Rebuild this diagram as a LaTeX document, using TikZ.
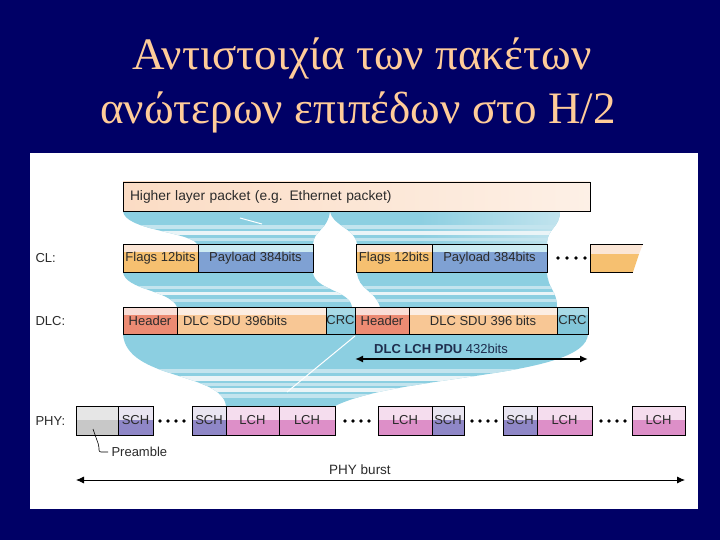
\documentclass[tikz,border=0pt]{standalone}
\usepackage{fontspec}
\setmainfont{Liberation Serif}
\setsansfont{Liberation Sans}
\usepackage{tikz}
\usetikzlibrary{arrows.meta,positioning}
\definecolor{HLNavy}{HTML}{000066}
\definecolor{HLTitle}{HTML}{FFCC99}
\definecolor{HLInk}{HTML}{2B2B2B}
\definecolor{HLPduInk}{HTML}{1E2D4D}
\definecolor{HLPeach}{HTML}{FBDCC4}
\definecolor{HLPeachLt}{HTML}{FDF0E6}
\definecolor{HLOrangeEnd}{HTML}{F6B47A}
\definecolor{HLFlagTop}{HTML}{FBE6D6}
\definecolor{HLFlag}{HTML}{F6C070}
\definecolor{HLPayTop}{HTML}{CDEBF2}
\definecolor{HLPay}{HTML}{7FA1D3}
\definecolor{HLHeadTop}{HTML}{F9DDD6}
\definecolor{HLHead}{HTML}{EC8B73}
\definecolor{HLSduTop}{HTML}{FCEDE2}
\definecolor{HLSdu}{HTML}{F8C795}
\definecolor{HLCrcTop}{HTML}{A9DAE6}
\definecolor{HLCrc}{HTML}{82C6D9}
\definecolor{HLPreTop}{HTML}{E6E6E6}
\definecolor{HLPre}{HTML}{C8C8C8}
\definecolor{HLSchTop}{HTML}{E9E5F1}
\definecolor{HLSch}{HTML}{8F87C7}
\definecolor{HLLchTop}{HTML}{F5DDEE}
\definecolor{HLLch}{HTML}{DD8FC8}
\definecolor{HLBand}{HTML}{8CCFE1}
\definecolor{HLBandLt}{HTML}{C3E4EE}
\definecolor{HLBandWh}{HTML}{EAF4F7}
\newcommand\segfont{\fontsize{13}{15}\selectfont\sffamily}

\begin{document}
\begin{tikzpicture}[x=1pt,y=-1pt,
  seg/.style n args={2}{draw=black,line width=.9pt,outer sep=0pt,inner sep=0pt,
    minimum height=28pt,fill=#2,font=\segfont,text=HLInk,
    path picture={\fill[#1] (path picture bounding box.north west) rectangle
      ([yshift=-8pt]path picture bounding box.north east);}},
  physeg/.style n args={2}{seg={#1}{#2},minimum height=29pt,
    path picture={\fill[#1] (path picture bounding box.north west) rectangle
      ([yshift=-14pt]path picture bounding box.north east);}},
  rowlab/.style={anchor=west,font=\segfont,text=HLInk},
  dots/.style={fill=black},
  bandfill/.style={fill=HLBand}]
\path[use as bounding box] (0,0) rectangle (720,540);
\fill[HLNavy] (0,0) rectangle (720,540);
\fill[white] (30,153) rectangle (698,509);
\node[text=HLTitle,font=\fontsize{45}{54}\selectfont] (title1) at (362,58) {Αντιστοιχία των πακέτων};
\node[text=HLTitle,font=\fontsize{45}{54}\selectfont] (title2) at (358,112) {ανώτερων επιπέδων στο Η/2};
\begin{scope}
\clip (123,211) -- (330,211) .. controls (328,230) and (314,230) .. (313,244) -- (197,244) .. controls (190,232) and (124,230) .. (123,211) -- cycle
  (330,211) -- (560,211) .. controls (560,228) and (547,228) .. (547,244) -- (357,244) .. controls (355,228) and (332,226) .. (330,211) -- cycle;
\fill[bandfill] (100,205) rectangle (620,250);
\shade[left color=HLBand,right color=HLBandLt] (420,205) rectangle (565,250);
\fill[HLBandLt] (100,225) rectangle (620,229);
\fill[HLBandWh] (100,231) rectangle (620,235);
\fill[HLBandLt] (100,238) rectangle (620,241);
\end{scope}
\draw[white,line width=1pt] (240,218) -- (262,224);
\begin{scope}
\clip (123,272) -- (313,272) .. controls (314,290) and (350,290) .. (352,307) -- (177,307) .. controls (170,290) and (125,290) .. (123,272) -- cycle
  (357,272) -- (547,272) .. controls (548,290) and (557,290) .. (557,307) -- (380,307) .. controls (375,290) and (358,290) .. (357,272) -- cycle;
\fill[bandfill] (100,265) rectangle (620,312);
\fill[HLBandLt] (100,286) rectangle (620,289);
\fill[HLBandWh] (100,292) rectangle (620,295);
\fill[HLBandLt] (100,299) rectangle (620,302);
\end{scope}
\begin{scope}
\clip (123,334) -- (588,334) .. controls (586,378) and (400,374) .. (335,406) -- (226,406) .. controls (222,372) and (126,380) .. (123,334) -- cycle;
\fill[bandfill] (100,330) rectangle (620,410);
\fill[HLBandLt] (100,369) rectangle (620,373);
\fill[HLBandWh] (100,376) rectangle (620,381);
\fill[HLBandLt] (100,383) rectangle (620,386);
\fill[HLBandWh] (100,388) rectangle (620,392);
\fill[HLBandLt] (100,394) rectangle (620,398);
\end{scope}
\draw[white,line width=1pt] (355,336) -- (287,392);
\node[draw=black,line width=.9pt,outer sep=0pt,inner ysep=0pt,inner xsep=7pt,anchor=north west,
  minimum height=29pt,text width=453pt,align=left,font=\fontsize{13.8}{15}\selectfont\sffamily,text=HLInk,
  left color=HLPeach,right color=HLPeachLt,
  path picture={\fill[HLPeachLt] (250,182) -- (300,182) -- (285,211) -- (235,211) -- cycle;
    \fill[HLPeach!80!HLOrangeEnd] (500,182) -- (540,182) -- (528,211) -- (488,211) -- cycle;
    \fill[HLOrangeEnd] (563,182) -- (590,182) -- (590,211) -- (551,211) -- cycle;}]
  (higher) at (123,182) {Higher layer packet (e.g. Ethernet packet)};
\node[rowlab] (cllab) at (32,258) {CL:};
\node[seg={HLFlagTop}{HLFlag},minimum width=75pt,anchor=north west] (cl1flags) at (123,244) {Flags 12bits};
\node[seg={HLPayTop}{HLPay},minimum width=115pt,right=0pt of cl1flags] (cl1pay) {Payload 384bits};
\node[seg={HLFlagTop}{HLFlag},minimum width=76pt,anchor=north west] (cl2flags) at (356,244) {Flags 12bits};
\node[seg={HLPayTop}{HLPay},minimum width=115pt,right=0pt of cl2flags] (cl2pay) {Payload 384bits};
\foreach \x in {558,567,576,585} \fill[dots] (\x,258) circle (1.8pt);
\fill[HLFlagTop] (590,244) -- (643,244) -- (639,254) -- (590,254) -- cycle;
\fill[HLFlag] (590,254) -- (639,254) -- (633,272) -- (590,272) -- cycle;
\draw[line width=.9pt] (643,244) -- (590,244) -- (590,272) -- (633,272);
\node[rowlab] (dlclab) at (32,321) {DLC:};
\node[seg={HLHeadTop}{HLHead},minimum width=54pt,minimum height=27pt,anchor=north west] (dlc1head) at (123,307) {Header};
\node[seg={HLSduTop}{HLSdu},minimum width=149pt,minimum height=27pt,right=0pt of dlc1head,
  text width=137pt,inner xsep=6pt,align=left] (dlc1sdu) {DLC SDU 396bits};
\node[seg={HLCrcTop}{HLCrc},minimum width=29pt,minimum height=27pt,right=0pt of dlc1sdu] (dlc1crc) {CRC};
\node[seg={HLHeadTop}{HLHead},minimum width=54pt,minimum height=27pt,right=0pt of dlc1crc] (dlc2head) {Header};
\node[seg={HLSduTop}{HLSdu},minimum width=148pt,minimum height=27pt,right=0pt of dlc2head] (dlc2sdu) {DLC SDU 396 bits};
\node[seg={HLCrcTop}{HLCrc},minimum width=31pt,minimum height=27pt,right=0pt of dlc2sdu] (dlc2crc) {CRC};
\node[font=\segfont,text=HLPduInk] (pdulab) at (441,349) {\bfseries DLC LCH PDU \mdseries 432bits};
\coordinate (pduL) at (dlc2head.west |- 0,359);
\coordinate (pduR) at (dlc2crc.east |- 0,359);
\draw[line width=1.6pt,{Latex[length=8pt,width=7pt]}-{Latex[length=8pt,width=7pt]}] (pduL) -- (pduR);
\node[rowlab] (phylab) at (32,421) {PHY:};
\node[physeg={HLPreTop}{HLPre},minimum width=42pt,anchor=north west] (preamble) at (76,406) {};
\node[physeg={HLSchTop}{HLSch},minimum width=35pt,right=0pt of preamble] (sch1) {SCH};
\foreach \x in {160,168,176,184} \fill[dots] (\x,421) circle (1.8pt);
\node[physeg={HLSchTop}{HLSch},minimum width=34pt,anchor=north west] (sch2) at (192,406) {SCH};
\node[physeg={HLLchTop}{HLLch},minimum width=53pt,right=0pt of sch2] (lch1) {LCH};
\node[physeg={HLLchTop}{HLLch},minimum width=56pt,right=0pt of lch1] (lch2) {LCH};
\foreach \x in {345,353,361,369} \fill[dots] (\x,421) circle (1.8pt);
\node[physeg={HLLchTop}{HLLch},minimum width=54pt,anchor=north west] (lch3) at (378,406) {LCH};
\node[physeg={HLSchTop}{HLSch},minimum width=32pt,right=0pt of lch3] (sch3) {SCH};
\foreach \x in {472,480,488,496} \fill[dots] (\x,421) circle (1.8pt);
\node[physeg={HLSchTop}{HLSch},minimum width=34pt,anchor=north west] (sch4) at (503,406) {SCH};
\node[physeg={HLLchTop}{HLLch},minimum width=55pt,right=0pt of sch4] (lch4) {LCH};
\foreach \x in {601,609,617,625} \fill[dots] (\x,421) circle (1.8pt);
\node[physeg={HLLchTop}{HLLch},minimum width=53pt,anchor=north west] (lch5) at (632,406) {LCH};
\coordinate (preamTip) at (93,429);
\node[rowlab] (preamlab) at (108,452) {Preamble};
\draw[line width=.6pt,rounded corners=2pt] (preamTip) -- (99,446) |- (preamlab.west);
\node[font=\fontsize{13.5}{15}\selectfont\sffamily,text=HLInk] (burstlab) at (360,470) {PHY burst};
\coordinate (burstL) at (preamble.west |- 0,480);
\coordinate (burstR) at (lch5.east |- 0,480);
\draw[line width=.8pt,{Latex[length=8pt,width=7pt]}-{Latex[length=8pt,width=7pt]}] (burstL) -- (burstR);
\end{tikzpicture}
\end{document}
